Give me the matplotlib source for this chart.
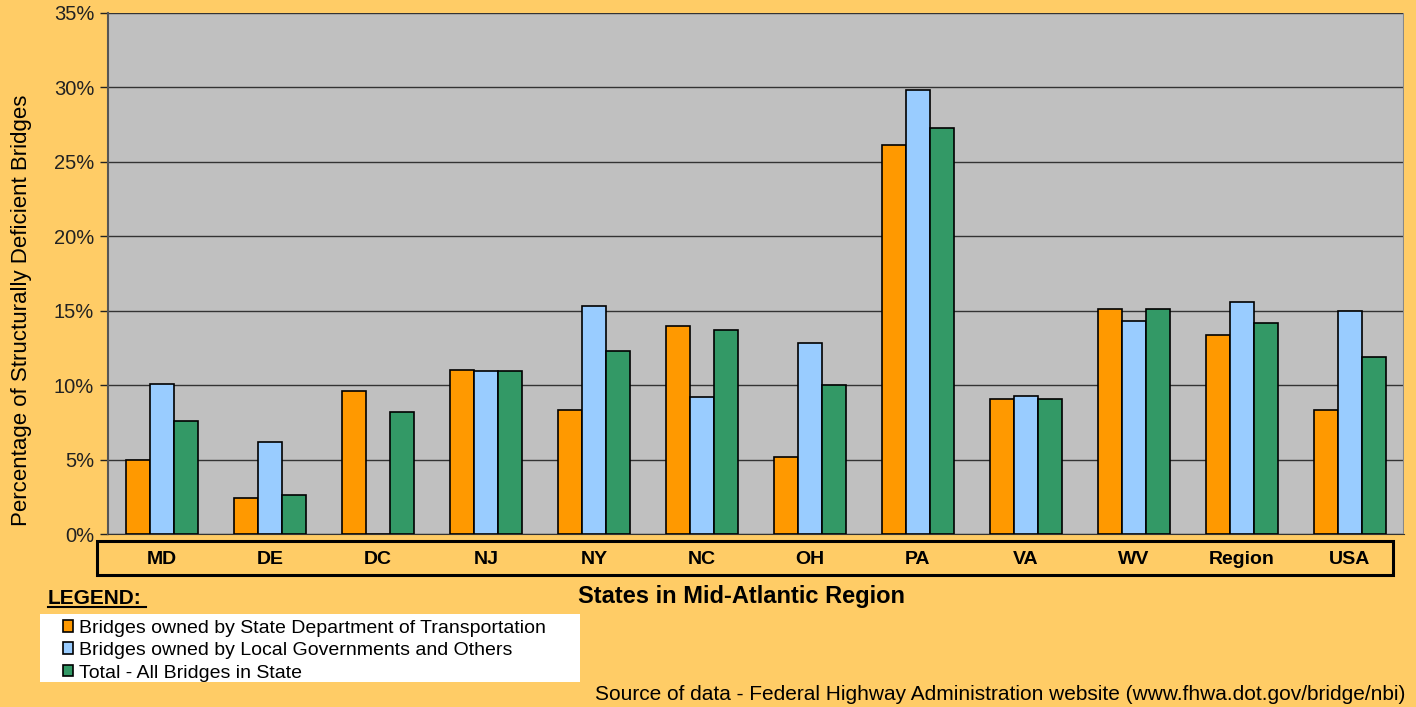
import numpy as np
import matplotlib.pyplot as plt
from matplotlib.patches import Rectangle
from matplotlib.ticker import MultipleLocator, FuncFormatter
from matplotlib.transforms import blended_transform_factory

states = ['MD', 'DE', 'DC', 'NJ', 'NY', 'NC', 'OH', 'PA', 'VA', 'WV', 'Region', 'USA']
state_dot = [5.0, 2.4, 9.6, 11.0, 8.3, 14.0, 5.2, 26.1, 9.1, 15.1, 13.4, 8.3]
local_gov = [10.1, 6.2, 0.0, 10.95, 15.3, 9.2, 12.8, 29.8, 9.3, 14.3, 15.6, 15.0]
total_all = [7.6, 2.6, 8.2, 10.95, 12.3, 13.7, 10.0, 27.3, 9.1, 15.1, 14.2, 11.9]
series_names = ['Bridges owned by State Department of Transportation',
                'Bridges owned by Local Governments and Others',
                'Total - All Bridges in State']

bg = '#FFCC66'
colors = ['#FF9900', '#99CCFF', '#339966']
plt.rcParams['font.family'] = ['Liberation Sans', 'DejaVu Sans']

fig = plt.figure(figsize=(14.16, 7.07), dpi=100, facecolor=bg)
ax = fig.add_axes([108 / 1416, 1 - 534 / 707, 1296 / 1416, 521 / 707])
ax.set_facecolor('#C0C0C0')

x = np.arange(len(states))
w = 0.222
for i, vals in enumerate([state_dot, local_gov, total_all]):
    ax.bar(x + (i - 1) * w, vals, w, color=colors[i], edgecolor='black',
           linewidth=1.2, zorder=3, label=series_names[i])

ax.set_xlim(-0.5, len(states) - 0.5)
ax.set_ylim(0, 35)
ax.yaxis.set_major_locator(MultipleLocator(5))
ax.yaxis.set_major_formatter(FuncFormatter(lambda v, p: '%d%%' % v))
ax.grid(axis='y', color='#333333', linewidth=1.0, zorder=1)
ax.set_xticks([])
ax.tick_params(axis='y', length=6, width=1, labelsize=14.5, pad=4, colors='#222222')
for s in ['top', 'right']:
    ax.spines[s].set_visible(False)
ax.spines['left'].set_color('#555555')
ax.spines['left'].set_linewidth(1.5)
ax.spines['bottom'].set_color('#333333')
ax.axvline(len(states) - 0.5, color='#888888', linewidth=1.5, zorder=4)

ax.set_ylabel('Percentage of Structurally Deficient Bridges', fontsize=16)
ax.yaxis.set_label_coords(-0.059, 0.43)

# category label box
fig.patches.append(Rectangle((97 / 1416, 1 - 575 / 707), 1296 / 1416, 34 / 707,
                             transform=fig.transFigure, facecolor='none',
                             edgecolor='black', linewidth=2.2))
trans = blended_transform_factory(ax.transData, fig.transFigure)
for xi, name in zip(x, states):
    ax.text(xi, 1 - 559 / 707, name, transform=trans, ha='center', va='center',
            fontsize=14, fontweight='bold', clip_on=False)

fig.text(741 / 1416, 1 - 597 / 707, 'States in Mid-Atlantic Region', ha='center',
         va='center', fontsize=17, fontweight='bold')
fig.text(48 / 1416, 1 - 598 / 707, 'LEGEND:', ha='left', va='center', fontsize=15,
         fontweight='bold')
fig.add_artist(plt.Line2D([48 / 1416, 146 / 1416], [1 - 607 / 707, 1 - 607 / 707],
                          color='black', linewidth=1.5))

# legend
fig.patches.append(Rectangle((40 / 1416, 1 - 682 / 707), 540 / 1416, 68 / 707,
                             transform=fig.transFigure, facecolor='white',
                             edgecolor='none'))
handles, labels = ax.get_legend_handles_labels()
leg = fig.legend(handles, labels, loc='upper left',
                 bbox_to_anchor=(49 / 1416, 1 - 606 / 707), frameon=False,
                 fontsize=14, handlelength=0.55, handleheight=0.55,
                 handletextpad=0.3, labelspacing=0.28, borderpad=0.2)

fig.text(1405 / 1416, 1 - 694 / 707,
         'Source of data - Federal Highway Administration website (www.fhwa.dot.gov/bridge/nbi)',
         ha='right', va='center', fontsize=15)

fig.savefig('out.png', dpi=100, facecolor=bg)
